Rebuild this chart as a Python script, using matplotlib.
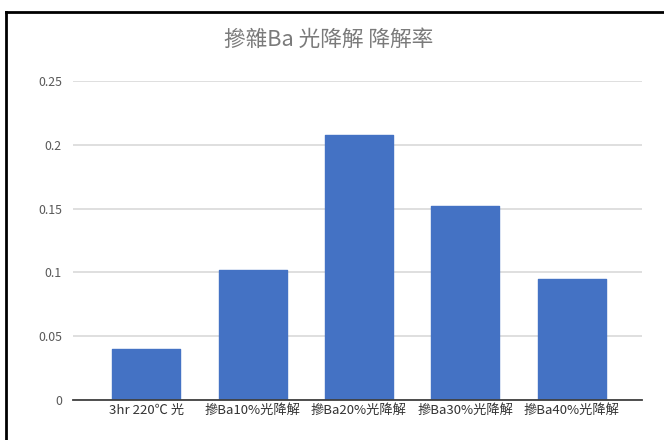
import matplotlib
matplotlib.use("Agg")
import matplotlib.pyplot as plt
from matplotlib.lines import Line2D

plt.rcParams["font.family"] = ["Noto Sans CJK TC", "DejaVu Sans"]

# degradation rate per sample
categories = ["3hr 220℃ 光", "摻Ba10%光降解", "摻Ba20%光降解", "摻Ba30%光降解", "摻Ba40%光降解"]
rates = [0.0395, 0.102, 0.208, 0.152, 0.0945]
yticks = [0, 0.05, 0.1, 0.15, 0.2, 0.25]
ytick_labels = ["0", "0.05", "0.1", "0.15", "0.2", "0.25"]

BAR_COLOUR = "#4472C4"
GRID_COLOUR = "#d9d9d9"
TEXT_COLOUR = "#595959"

fig = plt.figure(figsize=(6.64, 4.40), dpi=100)
ax = fig.add_axes([73 / 664, 1 - 399.5 / 440, (641.7 - 73) / 664, (399.5 - 81.5) / 440])

x = list(range(len(categories)))
ax.bar(x, rates, width=0.64, color=BAR_COLOUR, edgecolor=BAR_COLOUR,
       linewidth=1.0, joinstyle="round", zorder=3)

ax.set_xlim(-0.69, 4.66)
ax.set_ylim(0, 0.25)
ax.set_yticks(yticks)
ax.set_yticklabels(ytick_labels)
ax.set_xticks(x)
ax.set_xticklabels(categories)
ax.tick_params(axis="both", length=0, colors=TEXT_COLOUR)
ax.tick_params(axis="y", labelsize=8.9, pad=8)
ax.tick_params(axis="x", labelsize=9.5, pad=3, labelcolor="#333333")

ax.grid(axis="y", color=GRID_COLOUR, linewidth=1.2, zorder=0)
for side in ("top", "right", "left"):
    ax.spines[side].set_visible(False)
ax.spines["bottom"].set_color("#404040")
ax.spines["bottom"].set_linewidth(1.3)
ax.spines["bottom"].set_zorder(4)

fig.text(329 / 664, 1 - 40 / 440, "摻雜Ba 光降解 降解率", ha="center", va="center",
         fontsize=15.6, color="#7a7a7a")

# frame lines along the top and left edge
top_y = 1 - 12.5 / 440
left_x = 5.5 / 664
fig.add_artist(Line2D([left_x, 1.0], [top_y, top_y], transform=fig.transFigure,
                      color="black", linewidth=2.0))
fig.add_artist(Line2D([left_x, left_x], [0.0, top_y], transform=fig.transFigure,
                      color="black", linewidth=2.0))

fig.savefig("out.png", dpi=100)
